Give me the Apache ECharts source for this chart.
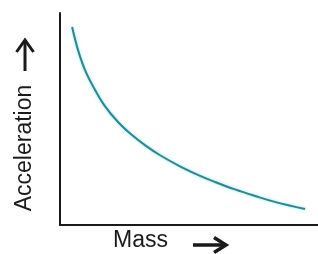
<!DOCTYPE html>
<html>
<head>
<meta charset="utf-8">
<script src="https://cdn.jsdelivr.net/npm/echarts@6/dist/echarts.min.js"></script>
<style>
  html, body { margin: 0; padding: 0; background: #fff; }
  #chart { width: 318px; height: 254px; }
</style>
</head>
<body>
<div id="chart"></div>
<script>
// curve (arbitrary units, axes 0..100)
const mass = [4.7, 7.0, 9.7, 13.6, 17.4, 22.5, 27.9, 32.9, 38.8, 46.5, 54.3, 60.1, 67.8, 75.6, 83.3, 95.0];
const acceleration = [93.4, 82.5, 73.1, 63.7, 56.1, 48.6, 42.4, 37.7, 32.9, 27.7, 23.2, 20.3, 16.8, 13.7, 10.9, 7.5];
const xLabel = "Mass";
const yLabel = "Acceleration";

const chart = echarts.init(document.getElementById("chart"));

const ink = "#1a1a1a";
const axisLine = { show: true, lineStyle: { color: ink, width: 2 } };
const arrowStyle = { stroke: ink, lineWidth: 3.5, fill: null, lineJoin: "miter" };

chart.setOption({
  animation: false,
  backgroundColor: "#fff",
  grid: { left: 60, right: 0, top: 13, bottom: 29 },
  xAxis: {
    type: "value",
    min: 0,
    max: 100,
    axisLine,
    axisTick: { show: false },
    axisLabel: { show: false },
    splitLine: { show: false },
  },
  yAxis: {
    type: "value",
    min: 0,
    max: 100,
    axisLine,
    axisTick: { show: false },
    axisLabel: { show: false },
    splitLine: { show: false },
  },
  series: [
    {
      type: "line",
      data: mass.map((m, i) => [m, acceleration[i]]),
      smooth: 0.4,
      showSymbol: false,
      lineStyle: {
        color: "#2b8790",
        width: 2,
        shadowColor: "rgba(90,215,230,0.7)",
        shadowBlur: 3,
      },
    },
  ],
  graphic: [
    {
      type: "text",
      x: 113,
      y: 241,
      style: {
        text: xLabel,
        font: "23px 'Liberation Sans', Arial, sans-serif",
        fill: ink,
        textAlign: "left",
        textVerticalAlign: "middle",
      },
    },
    // x arrow
    { type: "line", shape: { x1: 193, y1: 245, x2: 225, y2: 245 }, style: arrowStyle },
    { type: "polyline", shape: { points: [[214, 237.5], [226, 245], [214, 252.5]] }, style: arrowStyle },
    {
      type: "text",
      x: 25,
      y: 148,
      rotation: Math.PI / 2,
      style: {
        text: yLabel,
        font: "23px 'Liberation Sans', Arial, sans-serif",
        fill: ink,
        textAlign: "center",
        textVerticalAlign: "middle",
      },
    },
    // y arrow
    { type: "line", shape: { x1: 25, y1: 71, x2: 25, y2: 40 }, style: { ...arrowStyle, lineWidth: 3 } },
    { type: "polyline", shape: { points: [[16.5, 52], [25, 40], [33.5, 52]] }, style: { ...arrowStyle, lineWidth: 3 } },
  ],
});
</script>
</body>
</html>
